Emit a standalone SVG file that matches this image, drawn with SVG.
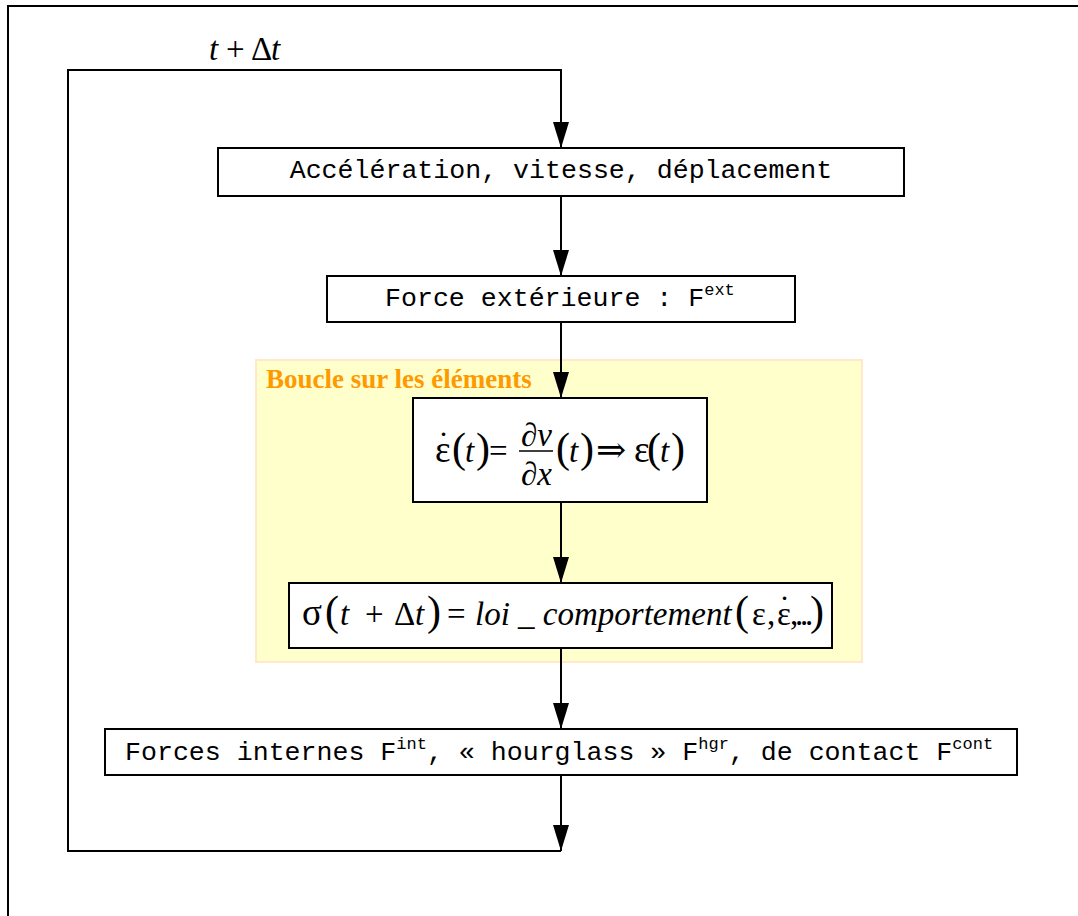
<svg xmlns="http://www.w3.org/2000/svg" width="1078" height="916" viewBox="0 0 1078 916">
<style>
.box{fill:#fff;stroke:#000;stroke-width:2}
.mono{font-family:"Liberation Mono","Courier New",monospace;font-size:26.6px;fill:#000}
.sup{font-size:17px}
.m{font-family:"Liberation Serif","Times New Roman",serif;font-size:33px;fill:#000}
.i{font-style:italic}
.g{font-size:37px}
.p{font-size:42px}
.conn{fill:none;stroke:#000;stroke-width:2}
</style>
<path d="M8,916 V6 H1078" fill="none" stroke="#000" stroke-width="2"/>
<g id="loop-region">
<rect x="256" y="360" width="606" height="302" fill="#ffffcc" stroke="#ffe8cc" stroke-width="2"/>
<text x="266" y="388" font-family="Liberation Serif,Times New Roman,serif" font-weight="bold" font-size="27" fill="#ff9900">Boucle sur les éléments</text>
</g>
<g id="connectors">
<path class="conn" d="M561,851 H68 V70 H561 V148"/>
<path d="M553,122 L569,122 L561,148 Z"/>
<path class="conn" d="M561,196 V276"/>
<path d="M553,250 L569,250 L561,276 Z"/>
<path class="conn" d="M561,322 V398"/>
<path d="M553,372 L569,372 L561,398 Z"/>
<path class="conn" d="M561,502 V583"/>
<path d="M553,557 L569,557 L561,583 Z"/>
<path class="conn" d="M561,648 V729"/>
<path d="M553,703 L569,703 L561,729 Z"/>
<path class="conn" d="M561,775 V851"/>
<path d="M553,825 L569,825 L561,851 Z"/>
</g>
<g id="label-dt">
<text class="m" y="60" font-size="26"><tspan class="i" x="209">t</tspan><tspan x="226">+</tspan><tspan x="251">Δ</tspan><tspan class="i" x="271">t</tspan></text>
</g>
<g id="node1">
<rect class="box" x="218" y="148" width="686" height="48"/>
<text class="mono" x="561" y="178" text-anchor="middle">Accélération, vitesse, déplacement</text>
</g>
<g id="node2">
<rect class="box" x="327" y="276" width="468" height="46"/>
<text class="mono" x="385" y="306">Force extérieure : F<tspan class="sup" dy="-11">ext</tspan></text>
</g>
<g id="node3">
<rect class="box" x="413" y="398" width="294" height="104"/>
<text class="m"><tspan class="g" x="435" y="462">ε</tspan><tspan x="438" y="455">˙</tspan><tspan class="p" x="452" y="462">(</tspan><tspan class="i" x="465" y="462">t</tspan><tspan class="p" x="476" y="462">)</tspan><tspan x="489" y="462">=</tspan><tspan class="p" x="556" y="462">(</tspan><tspan class="i" x="569" y="462">t</tspan><tspan class="p" x="580" y="462">)</tspan><tspan x="596" y="462" font-family="Liberation Serif,DejaVu Serif,serif" font-size="36">⇒</tspan><tspan class="g" x="634" y="462">ε</tspan><tspan class="p" x="647" y="462">(</tspan><tspan class="i" x="660" y="462">t</tspan><tspan class="p" x="671" y="462">)</tspan></text>
<text class="m" x="521" y="446">∂<tspan class="i">v</tspan></text>
<line x1="519" y1="451" x2="553" y2="451" stroke="#000" stroke-width="1.5"/>
<text class="m" x="521" y="485">∂<tspan class="i">x</tspan></text>
</g>
<g id="node4">
<rect class="box" x="289" y="583" width="543" height="65"/>
<text class="m"><tspan class="g" x="302" y="625" font-size="40">σ</tspan><tspan class="p" x="325" y="625">(</tspan><tspan class="i" x="340" y="625">t</tspan><tspan x="365" y="625">+</tspan><tspan x="394" y="625">Δ</tspan><tspan class="i" x="415" y="625">t</tspan><tspan class="p" x="427" y="625">)</tspan><tspan x="447" y="625">=</tspan><tspan class="i" x="475" y="625">loi _ comportement</tspan><tspan class="p" x="735" y="625">(</tspan><tspan x="752" y="625">ε</tspan><tspan x="767" y="625">,</tspan><tspan x="777" y="625">ε</tspan><tspan x="779" y="619">˙</tspan><tspan x="790 795 800 805" y="625">,...</tspan><tspan class="p" x="810" y="625">)</tspan></text>
</g>
<g id="node5">
<rect class="box" x="105" y="729" width="912" height="46"/>
<text class="mono" x="125" y="760">Forces internes F<tspan class="sup" dy="-11">int</tspan><tspan dy="11">, « hourglass » F</tspan><tspan class="sup" dy="-11">hgr</tspan><tspan dy="11">, de contact F</tspan><tspan class="sup" dy="-11">cont</tspan></text>
</g>
</svg>
